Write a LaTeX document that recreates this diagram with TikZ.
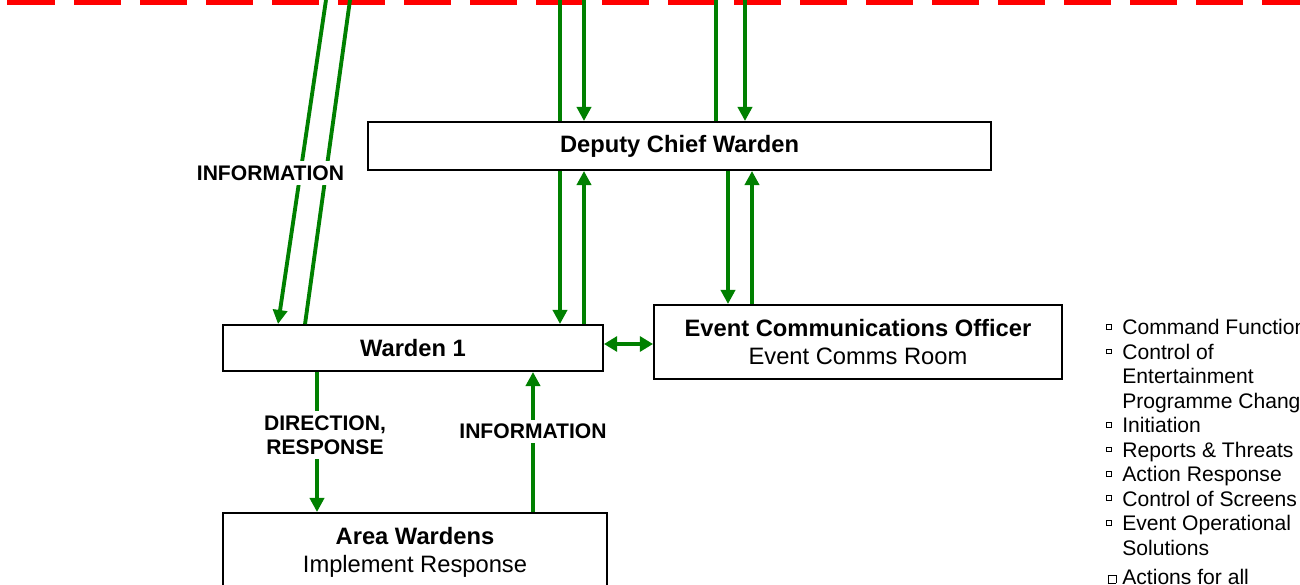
\documentclass[tikz,border=0pt]{standalone}
\usepackage{fontspec}
\setmainfont{Liberation Sans}
\usetikzlibrary{arrows.meta,positioning,calc}
\definecolor{flowgreen}{RGB}{0,128,0}
\newcommand\sqbox{\llap{\raisebox{3.4pt}{\setlength\fboxsep{0pt}\setlength\fboxrule{0.5pt}\fbox{\phantom{\rule{2.2pt}{2.2pt}}}}\hspace{6pt}}}
\newcommand\bigsqbox{\llap{\raisebox{0.6pt}{\setlength\fboxsep{0pt}\setlength\fboxrule{0.5pt}\fbox{\phantom{\rule{4pt}{4pt}}}}\hspace{3.4pt}}}
\tikzset{
    role/.style = {rectangle, draw, line width=1.1pt, inner sep=0pt, align=center,
                   font=\fontsize{13.5}{15.9}\selectfont},
    flow/.style = {draw=flowgreen, line width=2.2pt, -{Triangle[length=8pt,width=8pt]}},
    flowboth/.style = {draw=flowgreen, line width=2.2pt,
                       {Triangle[length=7.5pt,width=8.5pt]}-{Triangle[length=7.5pt,width=8.5pt]}},
    plain/.style = {draw=flowgreen, line width=2.2pt},
    tag/.style = {fill=white, inner sep=2.5pt, align=center,
                  font=\fontsize{12}{13.6}\selectfont\bfseries},
    item/.style = {anchor=base west, inner sep=0pt, font=\fontsize{12}{13.9}\selectfont}
}

\begin{document}
\begin{tikzpicture}
  \useasboundingbox (0,0) rectangle (26,-11.7);
  % boundary line
  \draw[red, line width=0.2cm, dash pattern=on 0.94cm off 0.38cm] (0.15,0) -- (26,0);

  \node (dcw) at (13.59,-2.92) [role, minimum width=12.46cm, minimum height=0.96cm] {\bfseries Deputy Chief Warden};
  \node (w1) at (8.26,-6.96) [role, minimum width=7.6cm, minimum height=0.92cm] {\bfseries Warden 1};
  \node (eco) at (17.16,-6.84) [role, minimum width=8.16cm, minimum height=1.48cm]
        {\textbf{Event Communications Officer}\\Event Comms Room};
  \node (aw) at (8.30,-11.04) [role, minimum width=7.68cm, minimum height=1.56cm]
        {\textbf{Area Wardens}\\Implement Response};

  \coordinate (ta) at (11.2,0);
  \coordinate (tb) at (11.68,0);
  \coordinate (tc) at (14.32,0);
  \coordinate (td) at (14.9,0);
  \coordinate (te) at (6.52,0);
  \coordinate (tf) at (7.0,0);
  \coordinate (xc) at (14.56,0);
  \coordinate (xd) at (15.04,0);
  \coordinate (xe) at (6.34,0);
  \coordinate (xf) at (10.66,0);
  \coordinate (hy) at (0,-6.88);

  % from above the line
  \draw[plain] (ta |- dcw.north) -- (ta);
  \draw[flow] (tb) -- (tb |- dcw.north);
  \draw[plain] (tc |- dcw.north) -- (tc);
  \draw[flow] (td) -- (td |- dcw.north);
  \draw[flow] (te) -- ([xshift=1.12cm]w1.north west);
  \draw[plain] ([xshift=1.66cm]w1.north west) -- (tf);

  \draw[flow] (dcw.south -| ta) -- (w1.north -| ta);
  \draw[flow] (w1.north -| tb) -- (dcw.south -| tb);
  \draw[flow] (dcw.south -| xc) -- (eco.north -| xc);
  \draw[flow] (eco.north -| xd) -- (dcw.south -| xd);
  \draw[flowboth] (w1.east |- hy) -- (eco.west |- hy);
  \draw[flow] (w1.south -| xe) -- (aw.north -| xe);
  \draw[flow] (aw.north -| xf) -- (w1.south -| xf);

  \node (infotop) at (5.41,-3.46) [tag] {INFORMATION};
  \node (dirlbl) at (6.5,-8.7) [tag] {DIRECTION,\\RESPONSE};
  \node (infolow) at (10.66,-8.63) [tag] {INFORMATION};

  % task list
  \foreach \txt [count=\i] in {{\sqbox Command Functions}, {\sqbox Control of}, {Entertainment},
      {Programme Changes}, {\sqbox Initiation}, {\sqbox Reports \& Threats}, {\sqbox Action Response},
      {\sqbox Control of Screens}, {\sqbox Event Operational}, {Solutions}}
    \node (task\i) at (22.44,{-6.70-(\i-1)*0.489}) [item] {\txt};
  \node (task11) at (22.44,-11.68) [item] {\bigsqbox Actions for all};
\end{tikzpicture}
\end{document}
